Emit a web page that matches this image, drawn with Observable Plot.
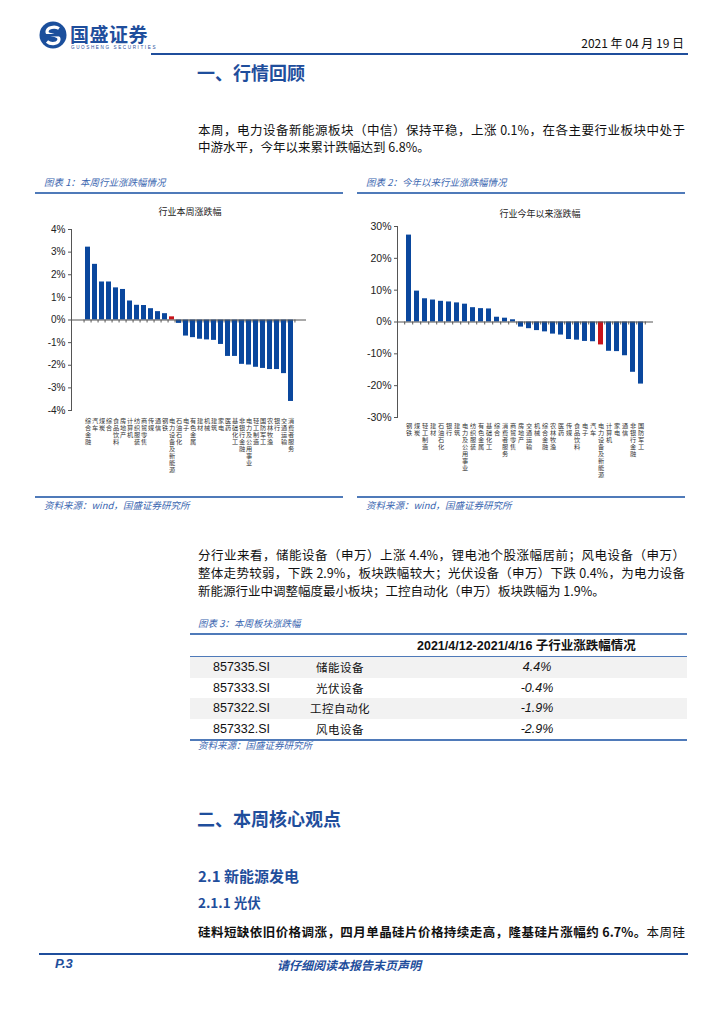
<!DOCTYPE html>
<html><head><meta charset="utf-8">
<script src="https://cdn.jsdelivr.net/npm/d3@7"></script>
<script src="https://cdn.jsdelivr.net/npm/@observablehq/plot@0.6"></script>
<style>
body{margin:0;width:724px;height:1024px;position:relative;background:#fff;font-family:"Noto Sans CJK SC",sans-serif;color:#111;overflow:hidden}
.a{position:absolute;white-space:nowrap}
.blue{color:#1f4e9c}
.cap{font-size:9.5px;font-style:italic;color:#3a66b0;line-height:12px}
.hl{position:absolute;background:#4f7ab9}
.para{position:absolute;left:198px;width:487px;font-size:12.5px;line-height:18px;height:18px;white-space:nowrap}
.j{text-align:justify;text-align-last:justify;white-space:normal}
.ctitle{font-size:9px;color:#222;line-height:12px;transform:translateX(-50%)}
</style></head><body>

<!-- header -->
<svg class="a" style="left:38px;top:20px" width="32" height="32" viewBox="0 0 32 32">
  <circle cx="15" cy="15" r="13.5" fill="#1b4f9c"/>
  <path d="M21 8.5 C17 6 9 7 9 12 C9 16 21 14 21 19 C21 24 13 25 9 21.5" fill="none" stroke="#fff" stroke-width="3.2"/>
  <rect x="5" y="14" width="20" height="2.4" fill="#1b4f9c"/>
</svg>
<div class="a blue" style="left:70px;top:22px;font-size:19px;font-weight:bold;line-height:24px;letter-spacing:0.5px">国盛证券</div>
<div class="a blue" style="left:71px;top:45px;font-size:4.6px;line-height:6px;letter-spacing:1.6px;font-family:'Liberation Sans'">GUOSHENG SECURITIES</div>
<div class="a" style="right:40px;top:35px;font-size:12px;line-height:16px">2021 年 04 月 19 日</div>
<div class="hl" style="left:151px;top:53px;width:537px;height:2px;background:#1f4e9c"></div>

<div class="a blue" style="left:197px;top:61px;font-size:18px;font-weight:bold;line-height:22px">一、行情回顾</div>

<div class="para j" style="top:121px">本周，电力设备新能源板块（中信）保持平稳，上涨 0.1%，在各主要行业板块中处于</div>
<div class="para" style="top:138px">中游水平，今年以来累计跌幅达到 6.8%。</div>

<!-- chart frames -->
<div class="a cap" style="left:44px;top:176px">图表 1：本周行业涨跌幅情况</div>
<div class="a cap" style="left:366px;top:176px">图表 2：今年以来行业涨跌幅情况</div>
<div class="hl" style="left:35px;top:192px;width:308px;height:2px"></div>
<div class="hl" style="left:357px;top:192px;width:328px;height:2px"></div>
<div class="a ctitle" style="left:190px;top:206px">行业本周涨跌幅</div>
<div class="a ctitle" style="left:540px;top:208px">行业今年以来涨跌幅</div>
<div id="c1" class="a" style="left:30px;top:200px"></div>
<div id="c2" class="a" style="left:360px;top:200px"></div>
<div class="hl" style="left:35px;top:496px;width:308px;height:2px"></div>
<div class="hl" style="left:357px;top:496px;width:328px;height:2px"></div>
<div class="a cap" style="left:44px;top:499px">资料来源：wind，国盛证券研究所</div>
<div class="a cap" style="left:366px;top:499px">资料来源：wind，国盛证券研究所</div>

<div class="para j" style="top:546px">分行业来看，储能设备（申万）上涨 4.4%，锂电池个股涨幅居前；风电设备（申万）</div>
<div class="para j" style="top:564px">整体走势较弱，下跌 2.9%，板块跌幅较大；光伏设备（申万）下跌 0.4%，为电力设备</div>
<div class="para" style="top:582px">新能源行业中调整幅度最小板块；工控自动化（申万）板块跌幅为 1.9%。</div>

<div class="a cap" style="left:198px;top:617px">图表 3：本周板块涨跌幅</div>
<div id="tbl"></div>

<div class="a blue" style="left:197px;top:807px;font-size:18px;font-weight:bold;line-height:22px">二、本周核心观点</div>
<div class="a blue" style="left:198px;top:866px;font-size:15px;font-weight:bold;line-height:20px">2.1 新能源发电</div>
<div class="a blue" style="left:198px;top:893px;font-size:13.5px;font-weight:bold;line-height:18px">2.1.1 光伏</div>
<div class="para j" style="top:923px"><b>硅料短缺依旧价格调涨，四月单晶硅片价格持续走高，隆基硅片涨幅约 6.7%。</b>本周硅</div>

<div class="hl" style="left:39px;top:953px;width:649px;height:2px;background:#1f4e9c"></div>
<div class="a blue" style="left:55px;top:956px;font-size:13px;font-weight:bold;font-style:italic;line-height:16px;font-family:'Liberation Sans'">P.3</div>
<div class="a blue" style="left:277px;top:957px;font-size:12px;font-weight:bold;font-style:italic;line-height:15px">请仔细阅读本报告末页声明</div>

<script>
// ---- data ----
const weekCats = ["综合金融","汽车","煤炭","综合","食品饮料","房地产","计算机","纺织服装","商贸零售","传媒","通信","钢铁","电力设备及新能源","石油石化","电子","有色金属","建材","机械","建筑","家电","医药","基础化工","非银行金融","电力及公用事业","轻工制造","国防军工","农林牧渔","银行","交通运输","消费者服务"];
const weekVals = [3.22,2.46,1.68,1.68,1.42,1.35,0.84,0.65,0.64,0.50,0.37,0.28,0.14,-0.15,-0.71,-0.78,-0.85,-0.88,-0.90,-1.08,-1.61,-1.61,-1.96,-1.99,-2.09,-2.14,-2.19,-2.19,-2.37,-3.60];
const ytdCats = ["钢铁","煤炭","轻工制造","建材","石油石化","银行","建筑","电力及公用事业","纺织服装","有色金属","基础化工","综合","消费者服务","商贸零售","房地产","交通运输","机械","综合金融","农林牧渔","医药","传媒","食品饮料","电子","汽车","电力设备及新能源","计算机","家电","通信","非银行金融","国防军工"];
const ytdVals = [27.3,9.7,7.3,6.9,6.5,6.3,6.0,5.6,4.5,4.2,4.1,1.5,1.2,0.7,-1.6,-2.1,-2.7,-3.1,-3.8,-4.1,-5.5,-5.7,-6.1,-6.2,-7.2,-9.2,-9.3,-10.6,-15.8,-19.5];
const highlight = "电力设备及新能源";
const weekTicks = [-4,-3,-2,-1,0,1,2,3,4];
const ytdTicks = [-30,-20,-10,0,10,20,30];
const tblCodes = ["857335.SI","857333.SI","857322.SI","857332.SI"];
const tblNames = ["储能设备","光伏设备","工控自动化","风电设备"];
const tblVals = ["4.4%","-0.4%","-1.9%","-2.9%"];
const tblHeader = "2021/4/12-2021/4/16 子行业涨跌幅情况";

const BLUE = "#0a479d", RED = "#c8141b", AX = "#555";
const vert = d => d.split("").join("\n");

function chart(cats, vals, ticks, o) {
  const data = cats.map((c, i) => ({c, v: vals[i]}));
  const lo = ticks[0], hi = ticks[ticks.length - 1];
  const pw = o.width - o.ml - o.mr;
  const step = pw / (cats.length + 2 * o.po - o.pi);
  const tickLen = (hi - lo) * 3 / (o.height - o.mt - o.mb);
  return Plot.plot({
    width: o.width, height: o.height,
    marginLeft: o.ml, marginRight: o.mr, marginTop: o.mt, marginBottom: o.mb,
    style: {fontFamily: "'Liberation Sans', 'Noto Sans CJK SC', sans-serif", color: "#222", background: "transparent"},
    x: {domain: cats, paddingInner: o.pi, paddingOuter: o.po, axis: null},
    y: {domain: [lo, hi], axis: null},
    color: {type: "identity"},
    marks: [
      Plot.barY(data, {x: "c", y: "v", fill: d => d.c === highlight ? RED : BLUE}),
      Plot.ruleY([0], {stroke: AX, strokeWidth: 1}),
      Plot.ruleX(cats, {x: d => d, y1: 0, y2: -tickLen, dx: -step / 2, stroke: AX}),
      Plot.ruleX([cats[cats.length - 1]], {x: d => d, y1: 0, y2: -tickLen, dx: step / 2, stroke: AX}),
      Plot.frame({anchor: "left", stroke: AX}),
      Plot.axisY({ticks: ticks, label: null, tickSize: 3, tickPadding: 3, fontSize: o.fs, tickFormat: d => d + "%", stroke: AX}),
      Plot.axisX({label: null, tickSize: 0, tickPadding: o.tp, fontSize: 6.2, lineHeight: 1.14, tickFormat: vert,
        fontFamily: "'Noto Sans CJK SC', sans-serif", fill: "#333"})
    ]
  });
}

document.getElementById("c1").append(chart(weekCats, weekVals, weekTicks,
  {width: 300, height: 290, ml: 41, mr: 24, mt: 29, mb: 80, pi: 0.35, po: 0.1, fs: 10, tp: 7}));
document.getElementById("c2").append(chart(ytdCats, ytdVals, ytdTicks,
  {width: 320, height: 295, ml: 37, mr: 27, mt: 26, mb: 78, pi: 0.33, po: 0.1, fs: 10.5, tp: 5}));

// ---- table ----
const tbl = document.getElementById("tbl");
function add(html, style) {
  const d = document.createElement("div");
  d.className = "a"; d.innerHTML = html; d.style.cssText += style; tbl.append(d);
}
add("", "left:190px;top:633px;width:497px;height:2px;background:#4f7ab9");
add(tblHeader, "left:417px;top:638px;font-size:12.5px;font-weight:bold;line-height:17px;font-family:'Liberation Sans','Noto Sans CJK SC'");
add("", "left:190px;top:656px;width:497px;height:1px;background:#4f7ab9");
tblCodes.forEach((code, i) => {
  const top = 657 + i * 20.5;
  if (i % 2 === 0) add("", `left:190px;top:${top}px;width:497px;height:20.5px;background:#f2f2f2`);
  const cy = top + 10.25;
  add(code, `left:213px;top:${cy - 8}px;font-size:12.5px;line-height:16px;font-family:'Liberation Sans'`);
  add(tblNames[i], `left:340px;top:${cy - 8}px;font-size:11.5px;line-height:16px;letter-spacing:0.5px;transform:translateX(-50%)`);
  add(tblVals[i], `left:537px;top:${cy - 8}px;font-size:12.5px;line-height:16px;font-style:italic;font-family:'Liberation Sans';transform:translateX(-50%)`);
});
add("", "left:190px;top:739px;width:497px;height:2px;background:#4f7ab9");
add("资料来源：国盛证券研究所", "left:198px;top:739px;font-size:9.5px;font-style:italic;color:#3a66b0;line-height:12px");
</script>
</body></html>
